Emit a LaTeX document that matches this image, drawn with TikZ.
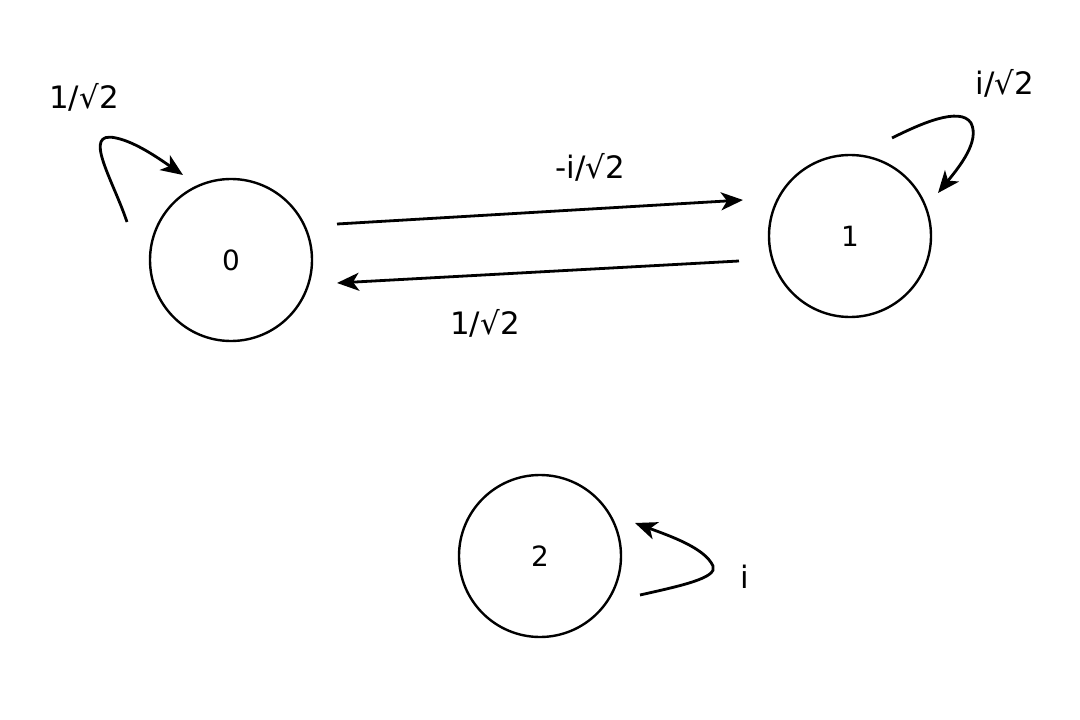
\documentclass[tikz,border=0pt]{standalone}
\usepackage{fontspec}
\setmainfont{DejaVu Sans}
\usetikzlibrary{arrows.meta,calc}
\begin{document}
\begin{tikzpicture}[x=1bp,y=-1bp,
  state/.style={draw,circle,line width=2.4bp,minimum size=162bp,inner sep=0pt,font=\fontsize{28}{32}\selectfont},
  arr/.style={line width=2.8bp,-{Stealth[length=22bp,width=18bp,inset=6bp]}},
  lbl/.style={font=\fontsize{31}{36}\selectfont,inner sep=0pt}]
\useasboundingbox[fill=white] (0,0) rectangle (1080,720);
\node[state] (n0) at (231,260) {0};
\node[state] (n1) at (850,236) {1};
\node[state] (n2) at (540,556) {2};
% transitions between 0 and 1
\draw[arr] ($(n0)+(106,-36)$) -- ($(n1)+(-107,-36)$);
\draw[arr] ($(n1)+(-111,25)$) -- ($(n0)+(106,23)$);
% self loops
\coordinate (l0s) at ($(n0)+(-104,-38)$);
\coordinate (l0e) at ($(n0)+(-48,-85)$);
\draw[arr] (l0s) .. controls ($(n0)+(-118,-80)$) and ($(n0)+(-150,-130)$) .. ($(n0)+(-115,-122)$)
  .. controls ($(n0)+(-95,-118)$) and ($(n0)+(-70,-100)$) .. (l0e);
\coordinate (l1s) at ($(n1)+(42,-98)$);
\coordinate (l1e) at ($(n1)+(88,-43)$);
\draw[arr] (l1s) .. controls ($(n1)+(70,-112)$) and ($(n1)+(110,-130)$) .. ($(n1)+(121,-113)$)
  .. controls ($(n1)+(130,-95)$) and ($(n1)+(110,-70)$) .. (l1e);
\coordinate (l2s) at ($(n2)+(100,39)$);
\coordinate (l2e) at ($(n2)+(95,-33)$);
\draw[arr] (l2s) .. controls ($(n2)+(140,30)$) and ($(n2)+(178,22)$) .. ($(n2)+(173,10)$)
  .. controls ($(n2)+(165,-8)$) and ($(n2)+(130,-20)$) .. (l2e);
% labels
\node[lbl] (t00) at (84,97) {1/√2};
\node[lbl] (t01) at (590,167) {-i/√2};
\node[lbl] (t10) at (485,323) {1/√2};
\node[lbl] (t11) at (1005,83) {i/√2};
\node[lbl] (t22) at (745,577) {i};
\end{tikzpicture}
\end{document}
